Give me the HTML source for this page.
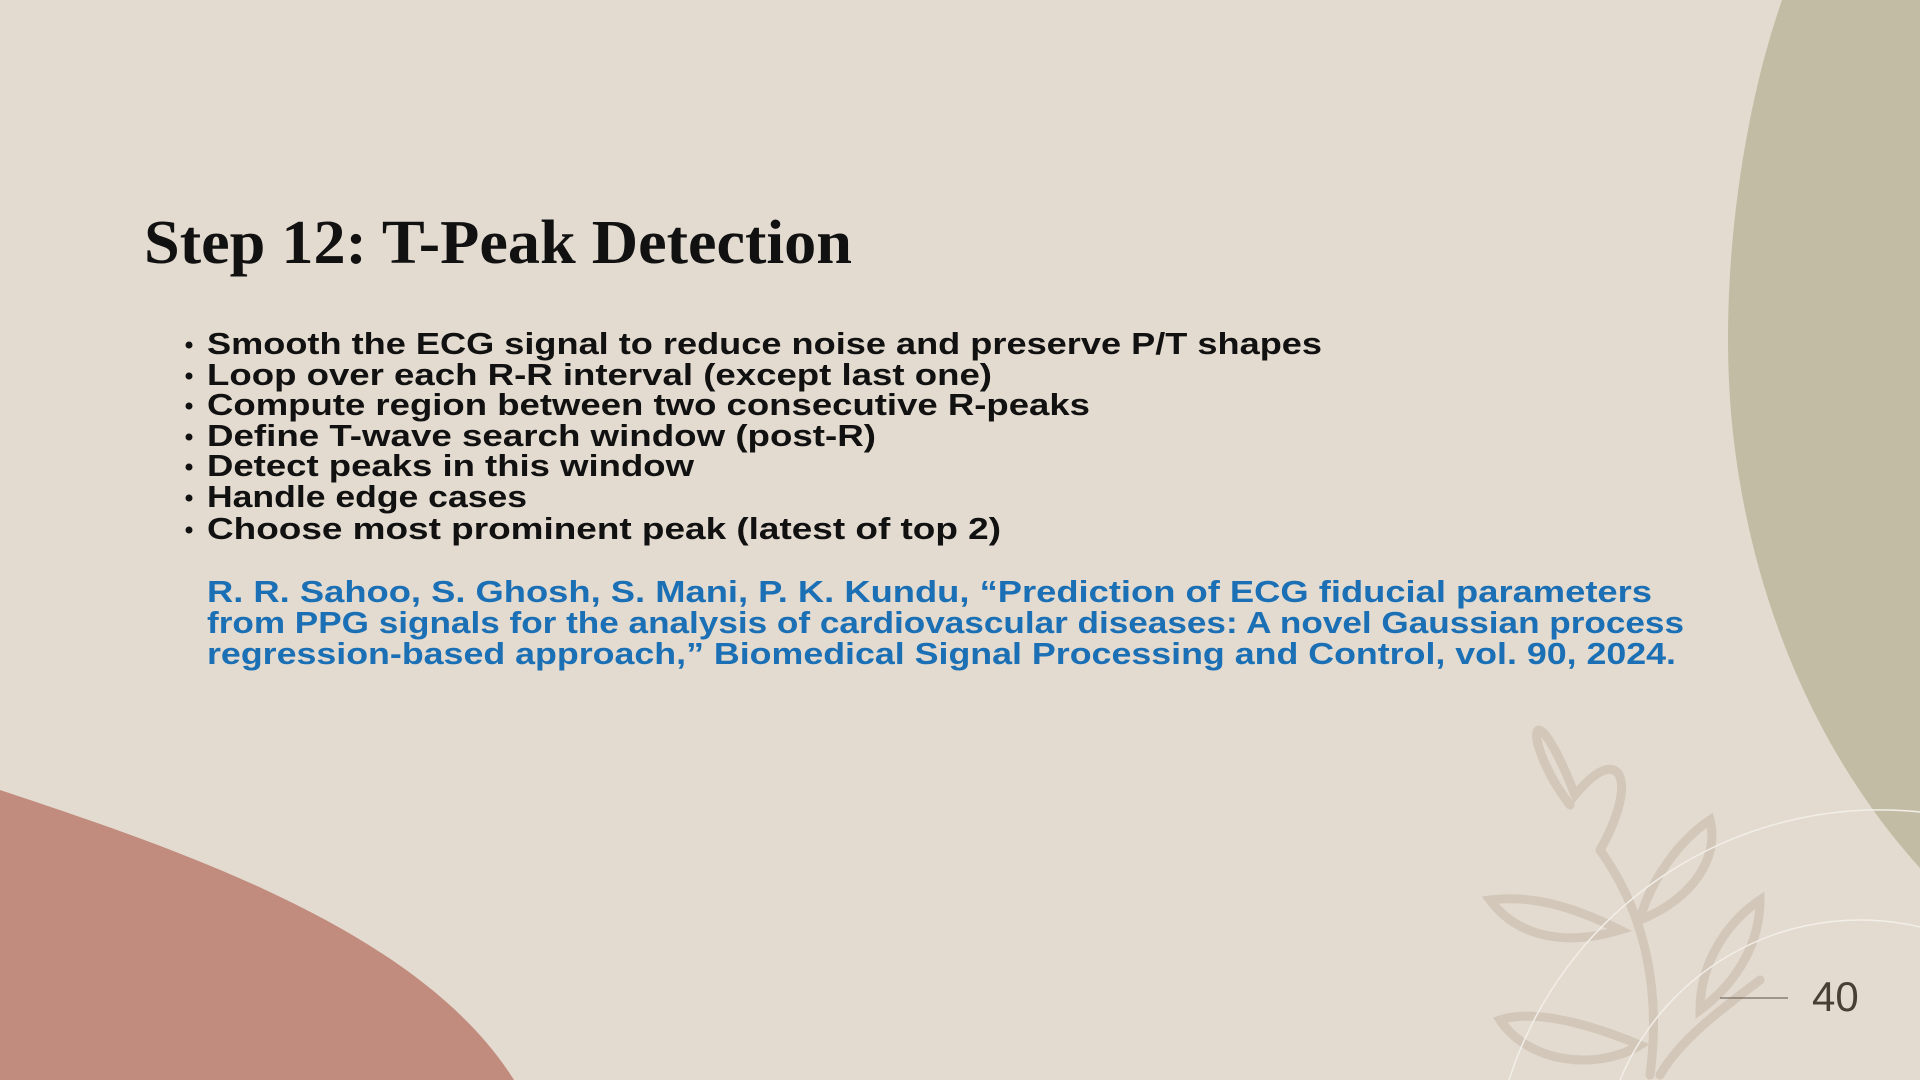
<!DOCTYPE html>
<html><head><meta charset="utf-8"><style>
html,body{margin:0;padding:0;width:1920px;height:1080px;overflow:hidden;}
body{background:#e3dbd0;position:relative;}
svg{position:absolute;left:0;top:0;display:block;}
</style></head><body>
<svg width="1920" height="1080" viewBox="0 0 1920 1080">
  <path d="M1782 0 C1740 120 1715 300 1735 450 C1760 640 1840 780 1920 868 L1920 0 Z" fill="#c2bca4"/>
  <path d="M0 790 C180 850 420 930 514 1080 L0 1080 Z" fill="#c18c7d"/>
  <g fill="none" stroke="#d2c7b9" stroke-width="9" stroke-linecap="round" transform="translate(0,60)">
    <path d="M1650 1015 C1660 940 1650 860 1600 790"/>
    <path d="M1570 745 C1520 680 1530 620 1575 735 C1620 680 1640 720 1600 790"/>
    <path d="M1640 860 C1690 840 1720 800 1710 760 C1680 780 1650 820 1640 860 Z"/>
    <path d="M1620 870 C1570 845 1530 835 1490 840 C1520 880 1570 885 1620 870 Z"/>
    <path d="M1660 1015 C1680 980 1720 950 1760 920"/>
    <path d="M1640 985 C1580 960 1530 950 1500 960 C1530 1005 1600 1010 1640 985 Z"/>
    <path d="M1700 950 C1740 920 1760 880 1760 840 C1730 860 1700 900 1700 950 Z"/>
  </g>
  <g fill="none" stroke="#f2eee8" stroke-width="1.5">
    <path d="M1509 1080 A390 390 0 0 1 1920 812"/>
    <path d="M1620 1080 A260 260 0 0 1 1920 927"/>
  </g>
  <text x="144" y="263" font-family="'Liberation Serif',serif" font-weight="bold" font-size="62" fill="#111" textLength="708" lengthAdjust="spacingAndGlyphs">Step 12: T-Peak Detection</text>
  <g font-family="'Liberation Sans',sans-serif" font-weight="bold" font-size="31" fill="#111">
    <g><circle cx="189" cy="345" r="3.5" fill="#111"/><text x="207" y="354" textLength="1115" lengthAdjust="spacingAndGlyphs">Smooth the ECG signal to reduce noise and preserve P/T shapes</text></g>
    <g><circle cx="189" cy="376" r="3.5" fill="#111"/><text x="207" y="385" textLength="785" lengthAdjust="spacingAndGlyphs">Loop over each R-R interval (except last one)</text></g>
    <g><circle cx="189" cy="406" r="3.5" fill="#111"/><text x="207" y="415" textLength="883" lengthAdjust="spacingAndGlyphs">Compute region between two consecutive R-peaks</text></g>
    <g><circle cx="189" cy="437" r="3.5" fill="#111"/><text x="207" y="446" textLength="669" lengthAdjust="spacingAndGlyphs">Define T-wave search window (post-R)</text></g>
    <g><circle cx="189" cy="467" r="3.5" fill="#111"/><text x="207" y="476" textLength="487" lengthAdjust="spacingAndGlyphs">Detect peaks in this window</text></g>
    <g><circle cx="189" cy="498" r="3.5" fill="#111"/><text x="207" y="507" textLength="320" lengthAdjust="spacingAndGlyphs">Handle edge cases</text></g>
    <g><circle cx="189" cy="530" r="3.5" fill="#111"/><text x="207" y="539" textLength="794" lengthAdjust="spacingAndGlyphs">Choose most prominent peak (latest of top 2)</text></g>
  </g>
  <g font-family="'Liberation Sans',sans-serif" font-weight="bold" font-size="31" fill="#1a6fb5">
    <text x="207" y="602" textLength="1445" lengthAdjust="spacingAndGlyphs">R. R. Sahoo, S. Ghosh, S. Mani, P. K. Kundu, “Prediction of ECG fiducial parameters</text>
    <text x="207" y="633" textLength="1477" lengthAdjust="spacingAndGlyphs">from PPG signals for the analysis of cardiovascular diseases: A novel Gaussian process</text>
    <text x="207" y="664" textLength="1469" lengthAdjust="spacingAndGlyphs">regression-based approach,” Biomedical Signal Processing and Control, vol. 90, 2024.</text>
  </g>
  <line x1="1720" y1="998" x2="1788" y2="998" stroke="#5a5046" stroke-width="1"/>
  <text x="1812" y="1011" font-family="'Liberation Sans',sans-serif" font-size="42" fill="#4a3f35">40</text>
</svg>
</body></html>
